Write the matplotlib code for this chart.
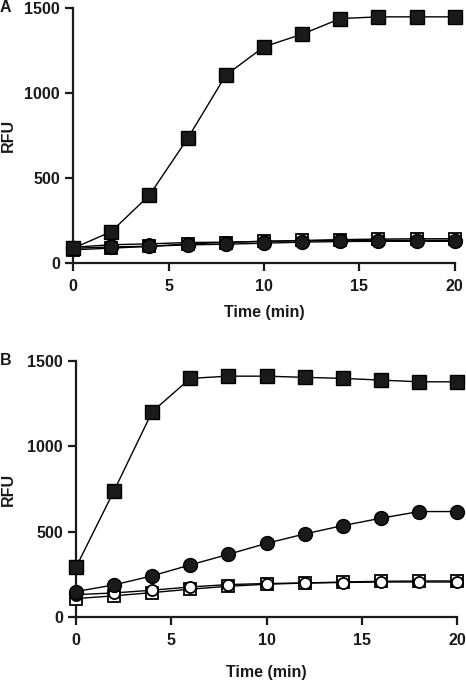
import numpy as np
import matplotlib.pyplot as plt

plt.rcParams['font.family'] = ['Liberation Sans', 'DejaVu Sans']
plt.rcParams['font.weight'] = 'bold'

time = [0, 2, 4, 6, 8, 10, 12, 14, 16, 18, 20]

# panel A
a_fsq = [84, 182, 397, 730, 1102, 1269, 1343, 1435, 1445, 1445, 1445]
a_fci = [84, 92, 96, 104, 108, 114, 120, 124, 125, 125, 125]
a_oci = [90, 105, 110, 118, 120, 125, 128, 130, 131, 131, 131]
a_osq = [75, 85, 95, 110, 118, 125, 130, 135, 138, 140, 140]

# panel B
b_fsq = [292, 740, 1202, 1397, 1410, 1410, 1403, 1397, 1387, 1377, 1377]
b_fci = [150, 189, 242, 306, 368, 432, 487, 536, 579, 618, 618]
b_oci = [132, 142, 158, 177, 191, 197, 200, 203, 206, 206, 206]
b_osq = [109, 125, 144, 164, 181, 193, 200, 206, 210, 212, 212]

fig = plt.figure(figsize=(4.66, 6.82), dpi=100)
axA = fig.add_axes([0.157, 0.615, 0.819, 0.374])
axB = fig.add_axes([0.163, 0.095, 0.818, 0.376])

def panel(ax, fsq, fci, oci, osq, letter, lx, ylx, xly):
    kw = dict(color='black', linewidth=1.0, clip_on=False, zorder=3)
    ax.plot(time, osq, marker='s', markersize=8, markerfacecolor='white',
            markeredgecolor='black', markeredgewidth=1.3, **kw)
    ax.plot(time, oci, marker='o', markersize=8, markerfacecolor='white',
            markeredgecolor='black', markeredgewidth=1.3, **kw)
    ax.plot(time, fci, marker='o', markersize=10, markerfacecolor='#1a1a1a',
            markeredgecolor='black', **kw)
    ax.plot(time, fsq, marker='s', markersize=10, markerfacecolor='#1a1a1a',
            markeredgecolor='black', **kw)
    ax.set_xlim(0, 20)
    ax.set_ylim(0, 1500)
    ax.set_xticks([0, 5, 10, 15, 20])
    ax.set_yticks([0, 500, 1000, 1500])
    for s in ['top', 'right']:
        ax.spines[s].set_visible(False)
    for s in ['left', 'bottom']:
        ax.spines[s].set_linewidth(1.6)
        ax.spines[s].set_color('#1a1a1a')
    ax.tick_params(width=1.6, length=5.5, labelsize=11.5, pad=4,
                   color='#1a1a1a', labelcolor='#1a1a1a')
    ax.tick_params(axis='x', pad=6)
    ax.set_ylabel('RFU', fontsize=11.5, fontweight='bold', color='#1a1a1a',
                  va='center', ha='center')
    ax.yaxis.set_label_coords(ylx, 0.5)
    ax.set_xlabel('Time (min)', fontsize=11.5, fontweight='bold',
                  color='#1a1a1a', va='center')
    ax.xaxis.set_label_coords(0.5, xly)
    ax.text(lx, 1.0, letter, transform=ax.transAxes, fontsize=11.5,
            fontweight='bold', ha='left', va='center', color='#1a1a1a')

panel(axA, a_fsq, a_fci, a_oci, a_osq, 'A', -0.192, -0.170, -0.196)
panel(axB, b_fsq, b_fci, b_oci, b_osq, 'B', -0.2, -0.178, -0.214)

fig.savefig('out.png', dpi=100)
